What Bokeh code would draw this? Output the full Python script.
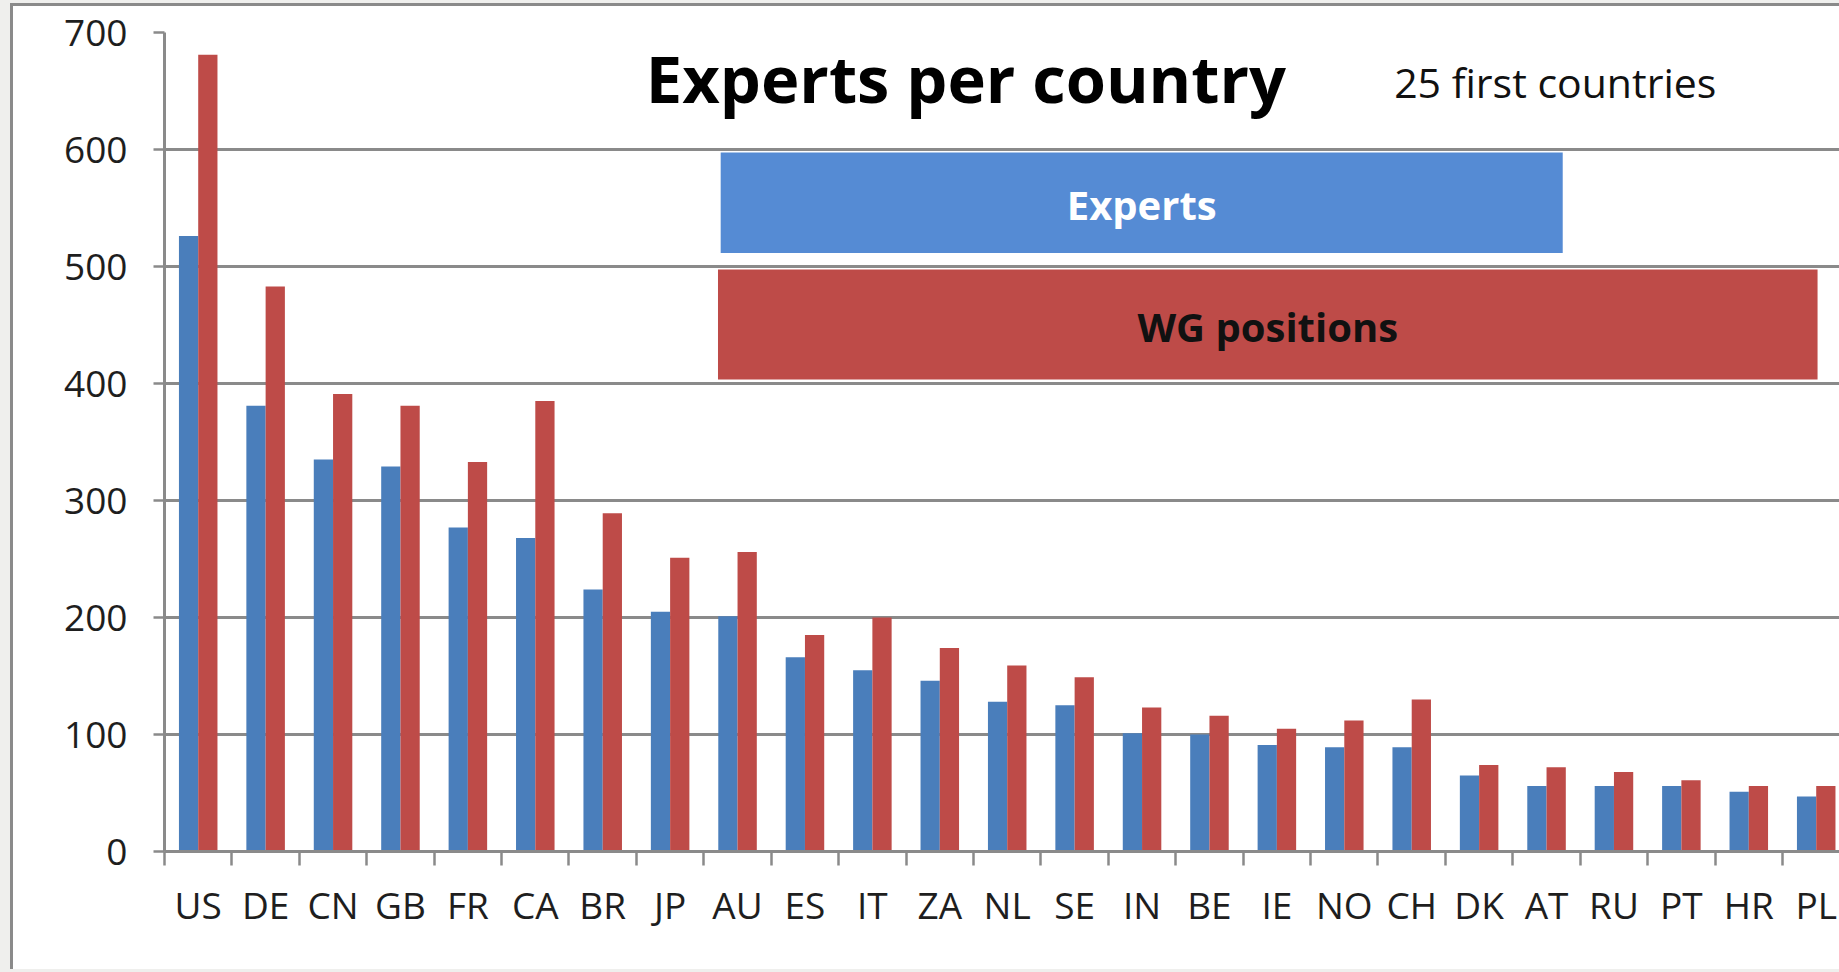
import numpy as np
from bokeh.plotting import figure
from bokeh.models import ColumnDataSource, FixedTicker, BoxAnnotation, Label, Range1d
from bokeh.transform import dodge
from bokeh.embed import file_html
from bokeh.resources import INLINE

countries = ["US", "DE", "CN", "GB", "FR", "CA", "BR", "JP", "AU", "ES", "IT", "ZA", "NL",
             "SE", "IN", "BE", "IE", "NO", "CH", "DK", "AT", "RU", "PT", "HR", "PL"]
experts = [526, 381, 335, 329, 277, 268, 224, 205, 201, 166, 155, 146, 128,
           125, 101, 100, 91, 89, 89, 65, 56, 56, 56, 51, 47]
wg_positions = [681, 483, 391, 381, 333, 385, 289, 251, 256, 185, 200, 174, 159,
                149, 123, 116, 105, 112, 130, 74, 72, 68, 61, 56, 56]
y_ticks = [0, 100, 200, 300, 400, 500, 600, 700]

title_text = "Experts per country"
subtitle_text = "25 first countries"
legend_labels = ["Experts", "WG positions"]

BLUE = "#4A7EBB"
RED = "#BE4B48"
LEG_BLUE = "#558BD4"
GRID = "#8a8a8a"
FONT = "Open Sans"

idx = list(range(len(countries)))
src = ColumnDataSource(dict(x=idx, experts=experts, wg=wg_positions, country=countries))

p = figure(width=1829, height=966, output_backend="svg", toolbar_location=None,
           x_range=Range1d(-0.5, 24.39), y_range=Range1d(0, 700),
           min_border_left=151, min_border_right=0, min_border_top=26, min_border_bottom=121,
           background_fill_color="white", border_fill_color="white")
p.outline_line_color = None
p.styles = {"border-left": "3px solid #8a8a8a", "border-top": "3px solid #8a8a8a",
            "box-sizing": "border-box", "margin": "3px 0 0 10px",
            "box-shadow": "0 0 0 12px #efefed"}

bw = 1.0 / 3.5
p.vbar(x=dodge("x", -bw / 2, range=p.x_range), top="experts", width=bw, source=src,
       fill_color=BLUE, line_color=None)
p.vbar(x=dodge("x", bw / 2, range=p.x_range), top="wg", width=bw, source=src,
       fill_color=RED, line_color=None)

# x axis
xa = p.xaxis[0]
xa.ticker = FixedTicker(ticks=idx, minor_ticks=[i - 0.5 for i in range(len(countries) + 1)])
xa.major_label_overrides = {i: c for i, c in enumerate(countries)}
xa.major_tick_line_color = None
xa.major_tick_out = 14
xa.major_tick_in = 0
xa.minor_tick_line_color = GRID
xa.minor_tick_line_width = 2.5
xa.minor_tick_out = 14
xa.minor_tick_in = 0
xa.axis_line_color = GRID
xa.axis_line_width = 3
xa.major_label_text_font = FONT
xa.major_label_text_font_size = "37px"
xa.major_label_text_color = "#1e1e1e"
xa.major_label_standoff = 13

# y axis
ya = p.yaxis[0]
ya.ticker = FixedTicker(ticks=y_ticks)
ya.major_tick_line_color = GRID
ya.major_tick_line_width = 2.5
ya.major_tick_out = 11
ya.major_tick_in = 0
ya.minor_tick_line_color = None
ya.axis_line_color = GRID
ya.axis_line_width = 3
ya.major_label_text_font = FONT
ya.major_label_text_font_size = "37px"
ya.major_label_text_color = "#1e1e1e"
ya.major_label_standoff = 26

p.xgrid.grid_line_color = None
p.ygrid.ticker = FixedTicker(ticks=y_ticks)
p.ygrid.grid_line_color = GRID
p.ygrid.grid_line_width = 3

# legend boxes
p.add_layout(BoxAnnotation(left=7.75, right=20.24, bottom=511.5, top=597.5,
                           fill_color=LEG_BLUE, fill_alpha=1.0, line_color=None))
p.add_layout(BoxAnnotation(left=7.71, right=24.02, bottom=403.5, top=497.5,
                           fill_color=RED, fill_alpha=1.0, line_color=None))
p.add_layout(Label(x=13.995, y=553, text=legend_labels[0], text_align="center",
                   text_baseline="middle", text_font=FONT, text_font_style="bold",
                   text_font_size="40px", text_color="white"))
p.add_layout(Label(x=15.865, y=449, text=legend_labels[1], text_align="center",
                   text_baseline="middle", text_font=FONT, text_font_style="bold",
                   text_font_size="40px", text_color="#111111"))

# titles
p.add_layout(Label(x=6.64, y=661.5, text=title_text, text_align="left",
                   text_baseline="alphabetic", text_font=FONT, text_font_style="bold",
                   text_font_size="65px", text_color="#000000"))
p.add_layout(Label(x=17.74, y=657.5, text=subtitle_text, text_align="left",
                   text_baseline="alphabetic", text_font=FONT,
                   text_font_size="41px", text_color="#111111"))

open("out.html", "w").write(file_html(p, INLINE))
